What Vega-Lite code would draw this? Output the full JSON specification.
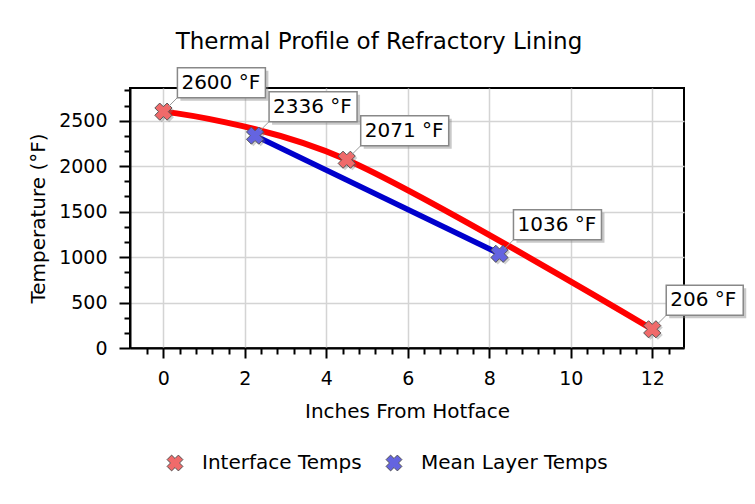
{
  "$schema": "https://vega.github.io/schema/vega-lite/v6.json",
  "width": 554,
  "height": 260,
  "autosize": {"type": "none"},
  "padding": {"left": 130, "top": 88, "right": 71, "bottom": 156},
  "background": "white",
  "title": {
    "text": "Thermal Profile of Refractory Lining",
    "font": "DejaVu Sans",
    "fontSize": 23,
    "fontWeight": "normal",
    "color": "#000",
    "anchor": "middle",
    "dx": -28,
    "offset": 13
  },
  "config": {
    "view": {"stroke": "#000", "strokeWidth": 2},
    "axis": {
      "labelFont": "DejaVu Sans",
      "labelFontSize": 19,
      "labelColor": "#000",
      "titleFont": "DejaVu Sans",
      "titleFontSize": 20,
      "titleFontWeight": "normal",
      "titleColor": "#000",
      "domainColor": "#000",
      "domainWidth": 2,
      "tickColor": "#000",
      "tickWidth": 2,
      "tickCount": 100,
      "gridColor": "#d4d4d4",
      "gridWidth": 1.5
    }
  },
  "data": {
    "values": [
      {"x": 0, "temp": 2600, "series": "Interface Temps", "label": "2600 °F"},
      {"x": 4.5, "temp": 2071, "series": "Interface Temps", "label": "2071 °F"},
      {"x": 12, "temp": 206, "series": "Interface Temps", "label": "206 °F"},
      {"x": 2.25, "temp": 2336, "series": "Mean Layer Temps", "label": "2336 °F"},
      {"x": 8.25, "temp": 1036, "series": "Mean Layer Temps", "label": "1036 °F"}
    ]
  },
  "layer": [
    {
      "transform": [{"filter": "datum.series === 'Mean Layer Temps'"}],
      "mark": {"type": "line", "strokeWidth": 5.5, "color": "#0000cc"},
      "encoding": {
        "x": {
          "field": "x",
          "type": "quantitative",
          "scale": {"domain": [-0.82, 12.78], "nice": false, "zero": false},
          "axis": {
            "title": "Inches From Hotface",
            "values": [-0.4, 0, 0.4, 0.8, 1.2, 1.6, 2, 2.4, 2.8, 3.2, 3.6, 4, 4.4, 4.8, 5.2, 5.6, 6, 6.4, 6.8, 7.2, 7.6, 8, 8.4, 8.8, 9.2, 9.6, 10, 10.4, 10.8, 11.2, 11.6, 12, 12.4],
            "labelExpr": "abs(datum.value/2 - round(datum.value/2)) < 0.01 ? format(datum.value, 'd') : ''",
            "tickSize": {"condition": {"test": "abs(datum.value/2 - round(datum.value/2)) < 0.01", "value": 10}, "value": 6},
            "gridOpacity": {"condition": {"test": "abs(datum.value/2 - round(datum.value/2)) < 0.01", "value": 1}, "value": 0},
            "labelPadding": 11,
            "titlePadding": 13
          }
        },
        "y": {
          "field": "temp",
          "type": "quantitative",
          "scale": {"domain": [0, 2860], "nice": false},
          "axis": {
            "title": "Temperature (°F)",
            "values": [0, 166.6667, 333.3333, 500, 666.6667, 833.3333, 1000, 1166.6667, 1333.3333, 1500, 1666.6667, 1833.3333, 2000, 2166.6667, 2333.3333, 2500, 2666.6667, 2833.3333],
            "labelExpr": "abs(datum.value/500 - round(datum.value/500)) < 0.001 ? format(datum.value, 'd') : ''",
            "tickSize": {"condition": {"test": "abs(datum.value/500 - round(datum.value/500)) < 0.001", "value": 11}, "value": 6},
            "gridOpacity": {"condition": {"test": "abs(datum.value/500 - round(datum.value/500)) < 0.001", "value": 1}, "value": 0},
            "labelPadding": 12,
            "titlePadding": 10
          }
        }
      }
    },
    {
      "transform": [{"filter": "datum.series === 'Interface Temps'"}],
      "mark": {"type": "line", "interpolate": "cardinal", "strokeWidth": 6, "color": "#ff0000"},
      "encoding": {
        "x": {"field": "x", "type": "quantitative"},
        "y": {"field": "temp", "type": "quantitative"}
      }
    },
    {
      "mark": {
        "type": "point",
        "shape": "M0.424,-0.99L0.99,-0.424L0.566,0L0.99,0.424L0.424,0.99L0,0.566L-0.424,0.99L-0.99,0.424L-0.566,0L-0.99,-0.424L-0.424,-0.99L0,-0.566Z",
        "filled": true,
        "size": 300,
        "color": "#777",
        "opacity": 0.35,
        "xOffset": 2,
        "yOffset": 2
      },
      "encoding": {
        "x": {"field": "x", "type": "quantitative"},
        "y": {"field": "temp", "type": "quantitative"}
      }
    },
    {
      "mark": {
        "type": "point",
        "shape": "M0.424,-0.99L0.99,-0.424L0.566,0L0.99,0.424L0.424,0.99L0,0.566L-0.424,0.99L-0.99,0.424L-0.566,0L-0.99,-0.424L-0.424,-0.99L0,-0.566Z",
        "filled": true,
        "size": 300,
        "stroke": "#555",
        "strokeWidth": 1,
        "opacity": 1
      },
      "encoding": {
        "x": {"field": "x", "type": "quantitative"},
        "y": {"field": "temp", "type": "quantitative"},
        "fill": {
          "field": "series",
          "type": "nominal",
          "scale": {"domain": ["Interface Temps", "Mean Layer Temps"], "range": ["#f06a6a", "#6464e0"]},
          "legend": {
            "title": null,
            "orient": "none",
            "legendX": 35,
            "legendY": 365,
            "direction": "horizontal",
            "padding": 0,
            "labelFont": "DejaVu Sans",
            "labelFontSize": 20,
            "labelColor": "#000",
            "labelLimit": 400,
            "labelOffset": 17,
            "columnPadding": 22,
            "symbolType": "M0.424,-0.99L0.99,-0.424L0.566,0L0.99,0.424L0.424,0.99L0,0.566L-0.424,0.99L-0.99,0.424L-0.566,0L-0.99,-0.424L-0.424,-0.99L0,-0.566Z",
            "symbolSize": 256,
            "symbolStrokeColor": "#555",
            "symbolStrokeWidth": 1,
            "symbolOpacity": 1
          }
        }
      }
    },
    {
      "mark": {"type": "rule", "stroke": "#999", "strokeWidth": 1, "xOffset": 5, "x2Offset": 14, "yOffset": -5, "y2Offset": -14},
      "encoding": {
        "x": {"field": "x", "type": "quantitative"},
        "x2": {"field": "x"},
        "y": {"field": "temp", "type": "quantitative"},
        "y2": {"field": "temp"}
      }
    },
    {
      "transform": [{"filter": "datum.temp >= 1000"}],
      "mark": {"type": "rect", "fill": "#888", "opacity": 0.45, "xOffset": 17, "x2Offset": 105, "yOffset": -41, "y2Offset": -11},
      "encoding": {
        "x": {"field": "x", "type": "quantitative"},
        "x2": {"field": "x"},
        "y": {"field": "temp", "type": "quantitative"},
        "y2": {"field": "temp"}
      }
    },
    {
      "transform": [{"filter": "datum.temp < 1000"}],
      "mark": {"type": "rect", "fill": "#888", "opacity": 0.45, "xOffset": 17, "x2Offset": 94, "yOffset": -41, "y2Offset": -11},
      "encoding": {
        "x": {"field": "x", "type": "quantitative"},
        "x2": {"field": "x"},
        "y": {"field": "temp", "type": "quantitative"},
        "y2": {"field": "temp"}
      }
    },
    {
      "transform": [{"filter": "datum.temp >= 1000"}],
      "mark": {"type": "rect", "fill": "white", "stroke": "#888", "strokeWidth": 1.5, "xOffset": 14, "x2Offset": 102, "yOffset": -44, "y2Offset": -14},
      "encoding": {
        "x": {"field": "x", "type": "quantitative"},
        "x2": {"field": "x"},
        "y": {"field": "temp", "type": "quantitative"},
        "y2": {"field": "temp"}
      }
    },
    {
      "transform": [{"filter": "datum.temp < 1000"}],
      "mark": {"type": "rect", "fill": "white", "stroke": "#888", "strokeWidth": 1.5, "xOffset": 14, "x2Offset": 91, "yOffset": -44, "y2Offset": -14},
      "encoding": {
        "x": {"field": "x", "type": "quantitative"},
        "x2": {"field": "x"},
        "y": {"field": "temp", "type": "quantitative"},
        "y2": {"field": "temp"}
      }
    },
    {
      "mark": {"type": "text", "align": "left", "baseline": "middle", "dx": 18, "dy": -29, "font": "DejaVu Sans", "fontSize": 20, "color": "#000"},
      "encoding": {
        "x": {"field": "x", "type": "quantitative"},
        "y": {"field": "temp", "type": "quantitative"},
        "text": {"field": "label"}
      }
    }
  ]
}
